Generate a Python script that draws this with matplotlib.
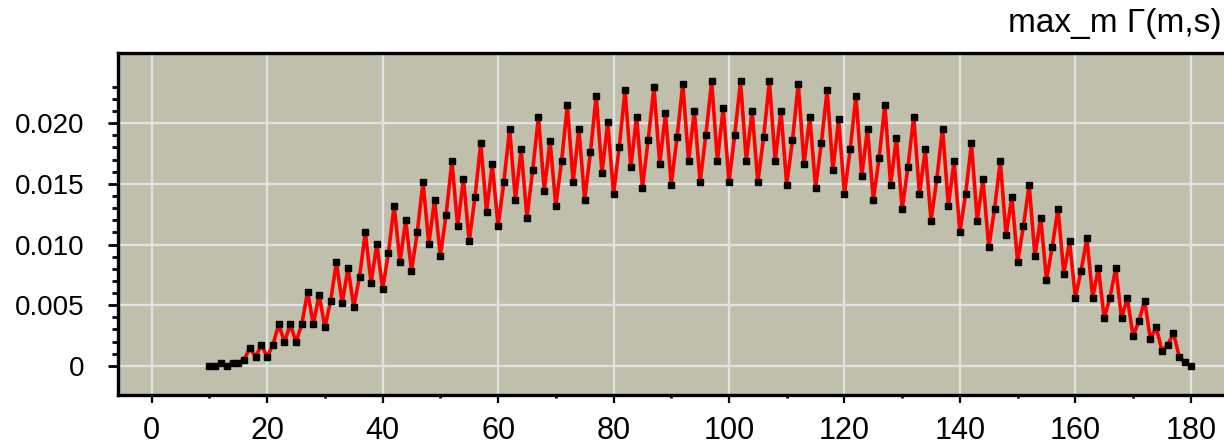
import numpy as np
import matplotlib
matplotlib.use('Agg')
import matplotlib.pyplot as plt
from matplotlib.ticker import FixedLocator

# s values and max over m of Gamma(m, s)
s_values = list(range(10, 181))
gamma_max = [
    0.0, 0.0, 0.00025, 0.0, 0.00025, 0.00025, 0.0005, 0.00149, 0.00074, 0.00174,      # 10-19
    0.00074, 0.00174, 0.00343, 0.00196, 0.00343, 0.00196, 0.00343, 0.00612, 0.00343, 0.00588,  # 20-29
    0.00318, 0.00538, 0.00856, 0.00516, 0.00806, 0.00488, 0.00734, 0.0110, 0.00684, 0.01001,  # 30-39
    0.00635, 0.0093, 0.01321, 0.00856, 0.0120, 0.00784, 0.0110, 0.01514, 0.01005, 0.01371,    # 40-49
    0.00905, 0.01247, 0.01686, 0.0115, 0.01542, 0.01026, 0.01393, 0.01834, 0.01272, 0.01661,  # 50-59
    0.0115, 0.01514, 0.01953, 0.01369, 0.01785, 0.01222, 0.01614, 0.02052, 0.01443, 0.01857,  # 60-69
    0.01319, 0.01686, 0.02149, 0.01514, 0.01953, 0.01369, 0.0176, 0.02226, 0.01589, 0.02006,  # 70-79
    0.01418, 0.01807, 0.02273, 0.01638, 0.02055, 0.01468, 0.01859, 0.02298, 0.01663, 0.0208,  # 80-89
    0.01493, 0.01884, 0.02323, 0.01688, 0.02102, 0.01514, 0.01906, 0.02345, 0.01688, 0.02127,  # 90-99
    0.01514, 0.01906, 0.02345, 0.01688, 0.02102, 0.01514, 0.01884, 0.02345, 0.01688, 0.02102,  # 100-109
    0.01493, 0.01859, 0.02323, 0.01663, 0.02055, 0.01468, 0.01834, 0.02273, 0.01614, 0.02031,  # 110-119
    0.01418, 0.01785, 0.02226, 0.01564, 0.01956, 0.01369, 0.0171, 0.02151, 0.01489, 0.01882,  # 120-129
    0.01294, 0.01638, 0.02055, 0.01418, 0.01785, 0.01197, 0.01539, 0.01956, 0.01321, 0.01686,  # 130-139
    0.0110, 0.01418, 0.01834, 0.01197, 0.01539, 0.00976, 0.01294, 0.01686, 0.01076, 0.01393,  # 140-149
    0.00856, 0.0115, 0.01493, 0.00905, 0.01222, 0.00709, 0.0098, 0.01297, 0.00759, 0.01026,   # 150-159
    0.00563, 0.00784, 0.01051, 0.00563, 0.00806, 0.00392, 0.00563, 0.00806, 0.00392, 0.00563,  # 160-169
    0.00246, 0.00367, 0.00538, 0.00221, 0.0032, 0.00124, 0.00174, 0.0027, 0.00074, 0.00028,   # 170-179
    0.0,                                                                                      # 180
]

x_major = [0, 20, 40, 60, 80, 100, 120, 140, 160, 180]
x_minor = [10, 30, 50, 70, 90, 110, 130, 150, 170]
y_major = [0.0, 0.005, 0.010, 0.015, 0.020]
y_labels = ['0', '0.005', '0.010', '0.015', '0.020']
title = 'max_m \u0393(m,s)'

plt.rcParams['font.family'] = ['Liberation Sans', 'DejaVu Sans']

fig = plt.figure(figsize=(12.24, 4.44), dpi=100)
ax = fig.add_axes([118 / 1224, 1 - 395 / 444, 1 - 118 / 1224, (395 - 52.7) / 444])
ax.set_facecolor('#bfbfab')

ax.plot(s_values, gamma_max, color='#ff0000', linewidth=2.6, marker='s',
        markersize=4.4, markerfacecolor='black', markeredgecolor='black', zorder=3)

ax.set_xlim(-5.84, 185.75)
ax.set_ylim(-0.0024, 0.02581)

ax.xaxis.set_major_locator(FixedLocator(x_major))
ax.xaxis.set_minor_locator(FixedLocator(x_minor))
ax.yaxis.set_major_locator(FixedLocator(y_major))
ax.yaxis.set_minor_locator(FixedLocator(np.arange(0.001, 0.0235, 0.001)))
ax.set_yticklabels(y_labels)

ax.grid(True, which='major', color='#e2e2e2', linewidth=1.7, zorder=0)
ax.set_axisbelow(True)

ax.tick_params(axis='y', which='major', direction='out', length=7, width=2, pad=17, labelsize=20)
ax.tick_params(axis='y', which='minor', direction='out', length=4.5, width=2)
ax.tick_params(axis='x', which='major', direction='out', length=6, width=1.6, pad=9, labelsize=22)
ax.tick_params(axis='x', which='minor', direction='out', length=2.5, width=2)

for side in ['left', 'top', 'bottom']:
    ax.spines[side].set_linewidth(2.4)
    ax.spines[side].set_color('black')
ax.spines['right'].set_visible(False)

fig.text(1222 / 1224, 1 - 32 / 444, title, ha='right', va='baseline', fontsize=24)

fig.savefig('out.png', dpi=100)
